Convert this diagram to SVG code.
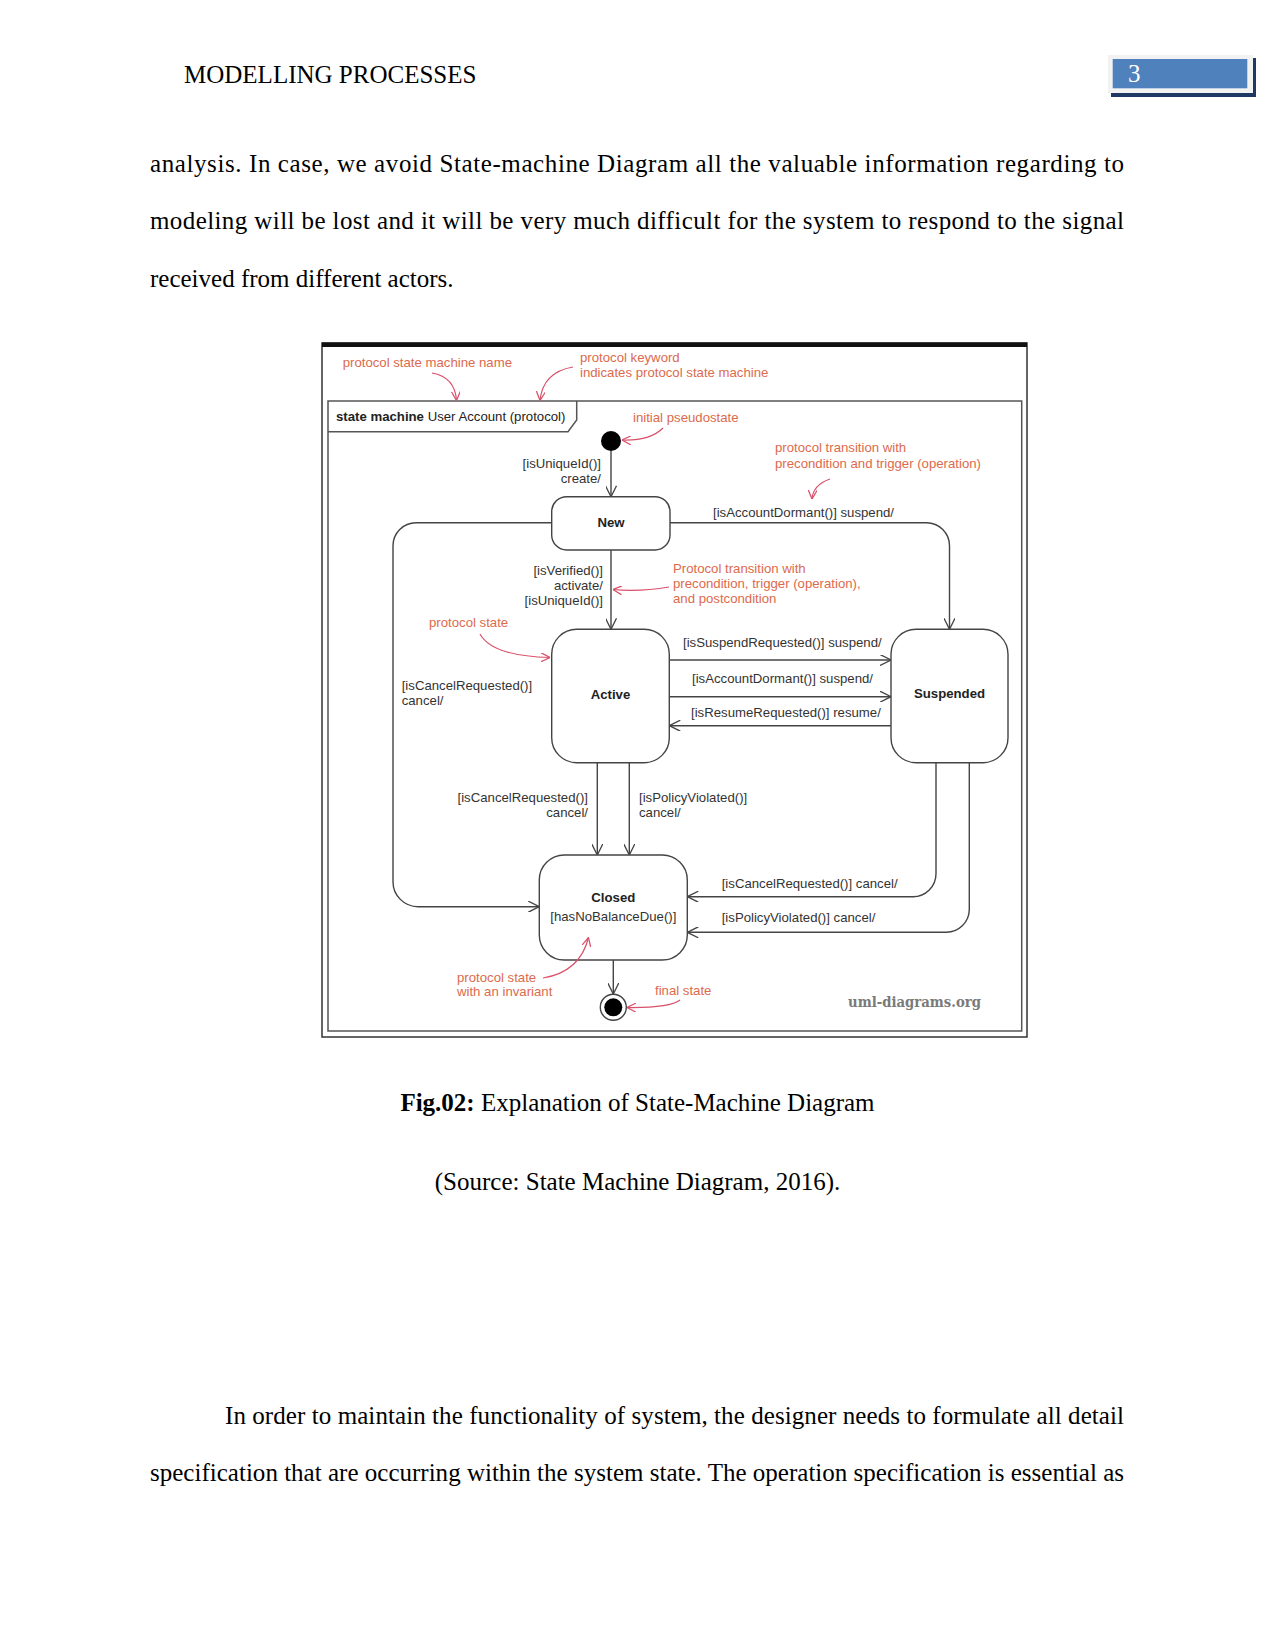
<svg xmlns="http://www.w3.org/2000/svg" width="1275" height="1650" viewBox="0 0 1275 1650">
<style>
.body{font-family:"Liberation Serif","Times New Roman",serif;font-size:25px;fill:#000}
.lbl{font-family:"Liberation Sans",Arial,sans-serif;font-size:13.2px;fill:#333}
.st{font-family:"Liberation Sans",Arial,sans-serif;font-size:13.2px;font-weight:bold;fill:#222}
.red{font-family:"Liberation Sans",Arial,sans-serif;font-size:13.2px;fill:#dc6a4c}
.box{fill:#fff;stroke:#444;stroke-width:1.4}
.ln{fill:none;stroke:#444;stroke-width:1.4}
.rl{fill:none;stroke:#d9506a;stroke-width:1.2}
.end{text-anchor:end}
.mid{text-anchor:middle}
</style>
<defs>
<marker id="ab" viewBox="0 0 10 10" refX="10" refY="5" markerUnits="userSpaceOnUse" markerWidth="12" markerHeight="11" orient="auto">
<path d="M0,0 L10,5 L0,10" fill="none" stroke="#444" stroke-width="1.2"/>
</marker>
<marker id="ar" viewBox="0 0 10 10" refX="10" refY="5" markerUnits="userSpaceOnUse" markerWidth="9" markerHeight="9" orient="auto">
<path d="M0,0 L10,5 L0,10" fill="none" stroke="#d9506a" stroke-width="1.4"/>
</marker>
</defs>
<rect width="1275" height="1650" fill="#fff"/>

<!-- header -->
<text class="body" x="184" y="83">MODELLING PROCESSES</text>
<g id="pagenum">
<rect x="1111" y="58" width="145" height="39" fill="#1f3864"/>
<rect x="1108" y="55" width="145" height="38" fill="#f2f2f2"/>
<rect x="1112.7" y="59" width="134.6" height="29.3" fill="#4f81bd"/>
<text class="body" x="1128" y="82" style="fill:#fff">3</text>
</g>

<!-- body text -->
<text class="body" x="150" y="171.5" textLength="974" lengthAdjust="spacing">analysis. In case, we avoid State-machine Diagram all the valuable information regarding to</text>
<text class="body" x="150" y="229" textLength="974" lengthAdjust="spacing">modeling will be lost and it will be very much difficult for the system to respond to the signal</text>
<text class="body" x="150" y="286.5">received from different actors.</text>

<!-- figure -->
<g id="figure">
<rect x="322" y="343" width="705" height="694" fill="#fff" stroke="#333" stroke-width="1.5"/>
<rect x="322" y="342.5" width="705" height="4.5" fill="#111"/>
<g id="frame">
<rect x="328" y="401" width="693.7" height="630" fill="none" stroke="#555" stroke-width="1.5"/>
<path d="M328,431.7 L568,431.7 L576.7,420 L576.7,401" fill="none" stroke="#555" stroke-width="1.5"/>
<text class="lbl" x="336" y="420.5" style="fill:#222"><tspan font-weight="bold">state machine</tspan> User Account (protocol)</text>
</g>

<g id="connectors">
<line class="ln" x1="611" y1="451" x2="611" y2="496.7" marker-end="url(#ab)"/>
<line class="ln" x1="611" y1="550" x2="611" y2="629.3" marker-end="url(#ab)"/>
<path class="ln" d="M670,522.7 L926.5,522.7 A23,23 0 0 1 949.5,545.7 L949.5,629.3" marker-end="url(#ab)"/>
<path class="ln" d="M551.7,522.7 L416,522.7 A23,23 0 0 0 393,545.7 L393,881.7 A25,25 0 0 0 418,906.7 L539.3,906.7" marker-end="url(#ab)"/>
<line class="ln" x1="669.3" y1="660" x2="891" y2="660" marker-end="url(#ab)"/>
<line class="ln" x1="669.3" y1="696.7" x2="891" y2="696.7" marker-end="url(#ab)"/>
<line class="ln" x1="891" y1="725.7" x2="669.3" y2="725.7" marker-end="url(#ab)"/>
<line class="ln" x1="597.3" y1="762.7" x2="597.3" y2="855" marker-end="url(#ab)"/>
<line class="ln" x1="629.3" y1="762.7" x2="629.3" y2="855" marker-end="url(#ab)"/>
<path class="ln" d="M936,762.7 L936,873.7 A23,23 0 0 1 913,896.7 L687.3,896.7" marker-end="url(#ab)"/>
<path class="ln" d="M969.3,762.7 L969.3,909.3 A23,23 0 0 1 946.3,932.3 L687.3,932.3" marker-end="url(#ab)"/>
<line class="ln" x1="613.3" y1="960" x2="613.3" y2="994" marker-end="url(#ab)"/>
</g>

<g id="initial"><circle cx="611" cy="441" r="10" fill="#000"/></g>
<g id="new">
<rect class="box" x="551.7" y="496.7" width="118.3" height="53.3" rx="15"/>
<text class="st mid" x="611" y="526.5">New</text>
</g>
<g id="active">
<rect class="box" x="551.7" y="629.3" width="117.6" height="133.4" rx="25"/>
<text class="st mid" x="610.5" y="699">Active</text>
</g>
<g id="suspended">
<rect class="box" x="891" y="629.3" width="117" height="133.4" rx="25"/>
<text class="st mid" x="949.5" y="698">Suspended</text>
</g>
<g id="closed">
<rect class="box" x="539.3" y="855" width="148" height="105" rx="25"/>
<text class="st mid" x="613.3" y="902.3">Closed</text>
<text class="lbl mid" x="613.3" y="921">[hasNoBalanceDue()]</text>
</g>
<g id="final">
<circle cx="613.3" cy="1007.3" r="13" fill="#fff" stroke="#444" stroke-width="1.4"/>
<circle cx="613.3" cy="1007.3" r="9" fill="#000"/>
</g>

<g id="labels">
<text class="lbl end" x="601" y="468.3">[isUniqueId()]</text>
<text class="lbl end" x="601" y="483">create/</text>
<text class="lbl" x="713" y="516.7">[isAccountDormant()] suspend/</text>
<text class="lbl end" x="603" y="575">[isVerified()]</text>
<text class="lbl end" x="603" y="590">activate/</text>
<text class="lbl end" x="603" y="605">[isUniqueId()]</text>
<text class="lbl" x="683" y="646.7">[isSuspendRequested()] suspend/</text>
<text class="lbl" x="692" y="683.3">[isAccountDormant()] suspend/</text>
<text class="lbl" x="691" y="716.7">[isResumeRequested()] resume/</text>
<text class="lbl" x="401.7" y="690">[isCancelRequested()]</text>
<text class="lbl" x="401.7" y="705">cancel/</text>
<text class="lbl end" x="588" y="801.7">[isCancelRequested()]</text>
<text class="lbl end" x="588" y="816.7">cancel/</text>
<text class="lbl" x="639" y="801.7">[isPolicyViolated()]</text>
<text class="lbl" x="639" y="816.7">cancel/</text>
<text class="lbl" x="721.7" y="888.3">[isCancelRequested()] cancel/</text>
<text class="lbl" x="721.7" y="921.7">[isPolicyViolated()] cancel/</text>
</g>

<g id="annotations">
<text class="red" x="342.7" y="366.7">protocol state machine name</text>
<path class="rl" d="M432,373 Q455,377 456.5,400.5" marker-end="url(#ar)"/>
<text class="red" x="580" y="361.7">protocol keyword</text>
<text class="red" x="580" y="376.7">indicates protocol state machine</text>
<path class="rl" d="M573,367 Q543,372 540,400.5" marker-end="url(#ar)"/>
<text class="red" x="633" y="421.7">initial pseudostate</text>
<path class="rl" d="M663,428 Q650,441 622,440" marker-end="url(#ar)"/>
<text class="red" x="775" y="451.7">protocol transition with</text>
<text class="red" x="775" y="468.3">precondition and trigger (operation)</text>
<path class="rl" d="M830,479 Q813,485 812,499" marker-end="url(#ar)"/>
<text class="red" x="673" y="573.3">Protocol transition with</text>
<text class="red" x="673" y="588">precondition, trigger (operation),</text>
<text class="red" x="673" y="603">and postcondition</text>
<path class="rl" d="M669,587 Q640,592 613,589.5" marker-end="url(#ar)"/>
<text class="red" x="429" y="627">protocol state</text>
<path class="rl" d="M480,634 Q492,656 550,657.5" marker-end="url(#ar)"/>
<text class="red" x="457" y="981.7">protocol state</text>
<text class="red" x="457" y="996">with an invariant</text>
<path class="rl" d="M543,978 Q580,972 588.5,937.5" marker-end="url(#ar)"/>
<text class="red" x="655" y="995">final state</text>
<path class="rl" d="M680,1000 Q670,1008 627,1007.5" marker-end="url(#ar)"/>
</g>
<text x="848" y="1006.7" textLength="133" lengthAdjust="spacingAndGlyphs" style="font-family:'DejaVu Serif',serif;font-size:15px;font-weight:bold;fill:#7a7a7a">uml-diagrams.org</text>
</g>

<!-- caption -->
<text class="body mid" x="637.5" y="1111"><tspan font-weight="bold">Fig.02:</tspan> Explanation of State-Machine Diagram</text>
<text class="body mid" x="637.5" y="1190">(Source: State Machine Diagram, 2016).</text>

<text class="body" x="225" y="1424" textLength="899" lengthAdjust="spacing">In order to maintain the functionality of system, the designer needs to formulate all detail</text>
<text class="body" x="150" y="1481" textLength="974" lengthAdjust="spacing">specification that are occurring within the system state. The operation specification is essential as</text>
</svg>
